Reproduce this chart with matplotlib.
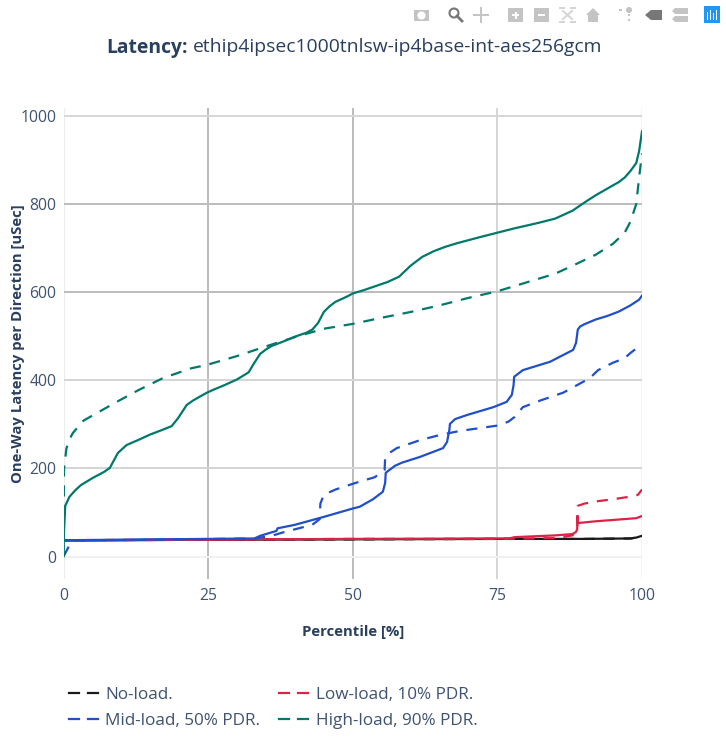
# Latency percentile curves for the ipsec test

from matplotlib import pyplot as plt
from matplotlib.patches import Rectangle, Circle, Polygon
from matplotlib.transforms import IdentityTransform

no_load_x = [0, 25, 50, 75, 90, 98, 99, 100]
no_load_y = [37, 38, 39, 40, 40, 41, 43, 47]

low_x = [0, 33, 50, 77, 78, 85, 88, 88.6, 88.8, 88.85, 88.95, 92, 96, 99, 100]
low_y = [36, 39, 40, 41, 44, 48, 51, 56, 62, 92, 76, 80, 84, 87, 92]
low_dash_x = [0, 50, 75, 85, 88, 88.8, 88.9, 90, 92, 95, 98, 99.3, 100]
low_dash_y = [37, 40, 40, 42, 48, 62, 115, 120, 125, 130, 136, 140, 152]

mid_x = [0, 33, 34, 36, 36.8, 37, 40, 45, 50, 51.2, 53.5, 55.2, 55.6, 55.7, 57.3, 58.5, 61.6, 65.6,
         66.3, 66.7, 66.8, 67.7, 69.7, 74.3, 76.6, 77.5, 77.8, 77.9, 79.4, 84.1, 88.1, 88.6, 88.9,
         89.3, 90, 92, 94, 96, 98, 99.5, 100]
mid_y = [37, 41, 47, 55, 58, 64, 72, 90, 109, 113, 130, 147, 167, 190, 206, 213, 226, 246,
         260, 287, 301, 312, 321, 339, 351, 367, 389, 408, 423, 442, 469, 485, 515,
         522, 527, 538, 546, 556, 570, 583, 592]
mid_dash_x = [0, 1, 1.5, 33, 36, 38, 43, 44.3, 44.4, 45, 47, 50, 51.2, 53.8, 55.5, 55.6, 56.1, 57.6,
              61.6, 65.1, 68.5, 74.9, 76.9, 78, 79.4, 82.4, 86.4, 91, 92.4, 95, 97, 98, 100]
mid_dash_y = [0, 25, 36, 41, 47, 55, 72, 85, 120, 140, 152, 165, 170, 180, 196, 223, 233, 246,
              264, 276, 285, 297, 306, 317, 339, 354, 372, 405, 423, 440, 450, 462, 482]

high_x = [0, 0.1, 0.3, 1, 2, 3, 5, 7, 8, 9.4, 10.9, 13, 15, 17, 18.7, 19.8, 21.3, 22.5, 24.8, 26, 28, 30,
          32, 33, 34, 35, 36, 38, 40, 42, 43, 44, 45, 46, 47, 49, 50, 52, 54, 56, 58, 60, 62,
          64, 66, 68, 70, 72, 75, 78, 82, 85, 88, 90, 92, 94, 96, 97, 98, 99, 99.5, 100]
high_y = [0, 60, 115, 135, 150, 162, 178, 192, 201, 235, 253, 265, 277, 287, 296, 314, 344, 355,
          372, 379, 390, 402, 418, 440, 460, 470, 478, 488, 499, 508, 515, 530, 555, 568, 578, 590,
          597, 605, 614, 623, 635, 660, 680, 693, 703, 711, 718, 725, 735, 745, 757, 767, 785, 803,
          820, 835, 850, 860, 875, 893, 920, 965]
high_dash_x = [0, 0.1, 0.5, 1, 1.6, 3.4, 5, 9.2, 13, 17.2, 22, 24.8, 30, 35, 40, 45, 50, 55, 60, 65,
               70, 75, 80, 85, 88, 92, 95, 97, 98, 99, 99.5, 100]
high_dash_y = [0, 200, 245, 265, 280, 308, 320, 351, 378, 405, 427, 435, 455, 477, 498,
               517, 528, 542, 555, 570, 587, 602, 622, 642, 660, 685, 710, 735, 760, 800, 860, 915]

names = ['No-load.', 'Low-load, 10% PDR.', 'Mid-load, 50% PDR.', 'High-load, 90% PDR.']
x_ticks = [0, 25, 50, 75, 100]
y_ticks = [0, 200, 400, 600, 800, 1000]
x_grid = ['#ececec', '#bcbcbc', '#bcbcbc', '#d6d6d6', '#f4f4f4']
y_grid = ['#f0f0f0', '#d4d4d4', '#d4d4d4', '#bcbcbc', '#bcbcbc', '#d6d6d6']

W, H = 726, 738
TEXT = '#2a3f5f'
TICK = '#3f5273'
BLACK = '#1a1a1a'
RED = '#dc2347'
BLUE = '#1f4fc9'
GREEN = '#00796b'

plt.rcParams['font.family'] = ['Open Sans', 'DejaVu Sans']
fig = plt.figure(figsize=(W / 100, H / 100), dpi=100)

# plot area in pixels: 0..100 sits on 63.5..642, 0..1000 sits on 556.5..116
ax = fig.add_axes([63.5 / W, 1 - 579 / H, (642 - 63.5) / W, (579 - 108) / H])
ax.set_xlim(0, 100)
ax.set_ylim(-51, 1018)
for s in ax.spines.values():
    s.set_visible(False)

ax.set_xticks(x_ticks)
ax.set_yticks(y_ticks)
ax.tick_params(length=0, labelsize=11.3, labelcolor=TICK, pad=5)
ax.tick_params(axis='x', pad=6.5)
ax.grid(True, lw=1.4)
for line, col in zip(ax.get_xgridlines(), x_grid):
    line.set_color(col)
for line, col in zip(ax.get_ygridlines(), y_grid):
    line.set_color(col)
ax.set_axisbelow(True)

ax.plot(no_load_x, no_load_y, color=BLACK, lw=1.6)
ax.plot(no_load_x, no_load_y, color=BLACK, lw=1.6, ls=(0, (5, 4)))
ax.plot(low_x, low_y, color=RED, lw=1.6)
ax.plot(low_dash_x, low_dash_y, color=RED, lw=1.6, ls=(0, (5, 4)))
ax.plot(mid_x, mid_y, color=BLUE, lw=1.6)
ax.plot(mid_dash_x, mid_dash_y, color=BLUE, lw=1.6, ls=(0, (5, 4)))
ax.plot(high_x, high_y, color=GREEN, lw=1.6)
ax.plot(high_dash_x, high_dash_y, color=GREEN, lw=1.6, ls=(0, (5, 4)))

fig.text(353 / W, 1 - 632 / H, 'Percentile [%]', fontsize=10.7, fontweight='bold', color=TEXT, ha='center', va='center')
fig.text(18 / W, 1 - 344 / H, 'One-Way Latency per Direction [uSec]', fontsize=10.7, fontweight='bold', color=TEXT,
         rotation=90, ha='center', va='center')

# title is two pieces, bold then regular
t1 = fig.text(106 / W, 1 - 47.5 / H, 'Latency:', fontsize=13.85, fontweight='bold', color=TEXT, va='center')
fig.canvas.draw()
box = t1.get_window_extent()
fig.text((box.x1 + 5) / W, 1 - 47.5 / H, 'ethip4ipsec1000tnlsw-ip4base-int-aes256gcm', fontsize=13.85, color=TEXT, va='center')

# legend, dashed handles
legend_cols = [(69, 105, [(names[0], BLACK, 693), (names[2], BLUE, 719)]),
               (279, 316, [(names[1], RED, 693), (names[3], GREEN, 719)])]
for x0, xt, rows in legend_cols:
    for name, col, y in rows:
        for d in [0, 19]:
            fig.add_artist(plt.Line2D([(x0 + d) / W, (x0 + d + 10) / W], [1 - y / H, 1 - y / H], color=col, lw=1.6))
        fig.text(xt / W, 1 - (y + 2) / H, name, fontsize=12.3, color=TICK, va='center')


# modebar icons, rough shapes only
def box_px(x, y, w, h, col='#c4c4c4'):
    fig.add_artist(Rectangle((x / W, 1 - (y + h) / H), w / W, h / H, color=col, lw=0))


def poly_px(pts, col='#c4c4c4'):
    fig.add_artist(Polygon([(a / W, 1 - b / H) for a, b in pts], closed=True, color=col, lw=0))


def dot_px(x, y, r, col='#c4c4c4', face=True):
    c = Circle((x, H - y), r, facecolor=col if face else 'none', edgecolor=col, lw=1.5)
    c.set_transform(IdentityTransform())
    fig.add_artist(c)


def seg_px(x0, y0, x1, y1, col='#c4c4c4', lw=1.4):
    fig.add_artist(plt.Line2D([x0 / W, x1 / W], [1 - y0 / H, 1 - y1 / H], color=col, lw=lw))


box_px(414, 10, 15, 11)
dot_px(421.5, 15.5, 3, 'white')
dot_px(454, 13, 4.5, '#777777', False)
seg_px(457, 16, 462, 21, '#777777', 2)
seg_px(474, 15, 488, 15)
seg_px(481, 8, 481, 22)
box_px(508, 8, 15, 14)
box_px(512, 14, 7, 2, 'white')
box_px(514.5, 11.5, 2, 7, 'white')
box_px(534, 8, 15, 14)
box_px(538, 14, 7, 2, 'white')
# autoscale, four corners and a cross
seg_px(560, 8, 564, 8, '#d4d4d4')
seg_px(571, 8, 575, 8, '#d4d4d4')
seg_px(560, 22, 564, 22, '#d4d4d4')
seg_px(571, 22, 575, 22, '#d4d4d4')
seg_px(563, 11, 572, 19, '#d4d4d4')
seg_px(572, 11, 563, 19, '#d4d4d4')
poly_px([(586, 15), (593, 8), (600, 15), (598, 15), (598, 22), (588, 22), (588, 15)])
dot_px(629, 10, 2)
box_px(628, 14, 2, 2)
box_px(628, 19, 2, 2)
box_px(619, 9, 3, 2)
poly_px([(645, 15), (651, 10), (662, 10), (662, 20), (651, 20)], '#777777')
poly_px([(672, 11), (675, 8), (688, 8), (688, 14), (675, 14)])
poly_px([(672, 19), (675, 16), (688, 16), (688, 22), (675, 22)])
box_px(704, 6, 16, 17, '#2196f3')
for bx, by in [(707, 12), (710, 10), (713, 13), (716, 10)]:
    box_px(bx, by, 1, 20 - by, 'white')

plt.savefig('out.png', dpi=100)
